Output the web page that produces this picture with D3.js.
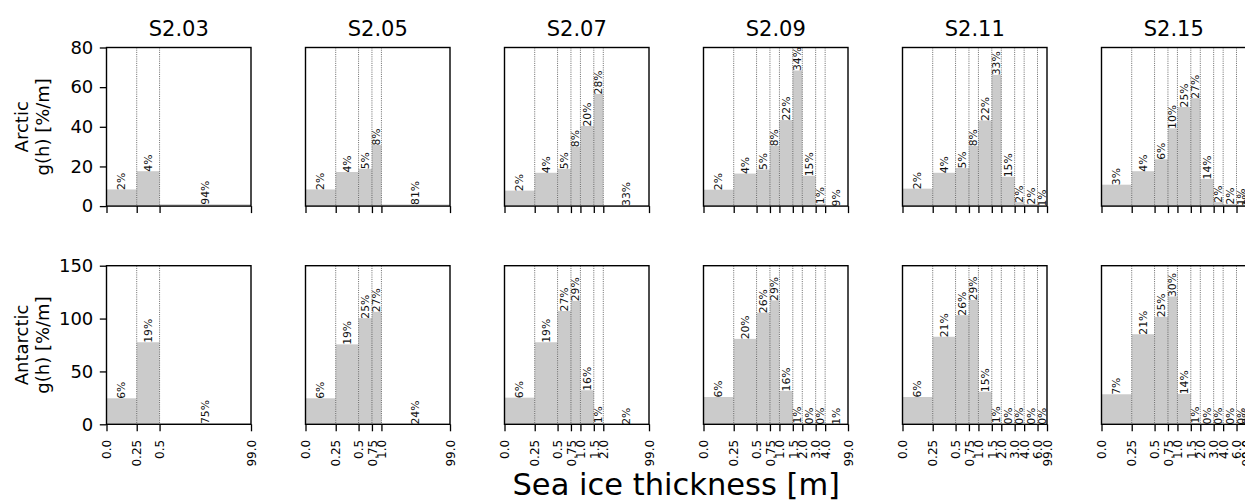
<!DOCTYPE html>
<html>
<head>
<meta charset="utf-8">
<script src="https://cdn.jsdelivr.net/npm/d3@7"></script>
<style>
  html, body { margin: 0; padding: 0; background: #ffffff; }
  svg { display: block; font-family: "DejaVu Sans", sans-serif; }
</style>
</head>
<body>
<svg id="chart" width="1245" height="502"></svg>
<script>
// ---------------- data ----------------
const experiments = ["S2.03", "S2.05", "S2.07", "S2.09", "S2.11", "S2.15"];
const regions = ["Arctic", "Antarctic"];

// thickness category boundaries [m] per experiment
const boundsS203 = [0, 0.25, 0.5, 99];
const boundsS205 = [0, 0.25, 0.5, 0.75, 1.0, 99];
const boundsS207 = [0, 0.25, 0.5, 0.75, 1.0, 1.5, 2.0, 99];
const boundsS209 = [0, 0.25, 0.5, 0.75, 1.0, 1.5, 2.0, 3.0, 4.0, 99];
const boundsS211 = [0, 0.25, 0.5, 0.75, 1.0, 1.5, 2.0, 3.0, 4.0, 6.0, 99];
const boundsS215 = [0, 0.25, 0.5, 0.75, 1.0, 1.5, 2.0, 3.0, 4.0, 6.0, 8.0, 99];

// share of ice area per category [%] (Arctic)
const arcticS203 = [2.1, 4.4, 93.5];
const arcticS205 = [2.1, 4.3, 4.7, 7.7, 81.2];
const arcticS207 = [1.95, 4.2, 4.7, 7.5, 20.2, 28.3, 33.2];
const arcticS209 = [2.07, 4.1, 4.6, 7.6, 21.7, 34.2, 15.3, 1.2, 9.3];
const arcticS211 = [2.2, 4.2, 4.8, 7.6, 21.6, 33.1, 14.8, 2.0, 2.0, 0.8];
const arcticS215 = [2.7, 4.4, 5.9, 9.8, 25.0, 27.2, 13.7, 2.0, 2.0, 1.0, 1.0];

// share of ice area per category [%] (Antarctic)
const antarcticS203 = [6.15, 19.4, 74.6];
const antarcticS205 = [6.15, 18.9, 25.1, 26.6, 24.0];
const antarcticS207 = [6.3, 19.4, 26.8, 29.2, 16.1, 0.7, 1.6];
const antarcticS209 = [6.45, 20.2, 26.4, 29.3, 15.8, 0.6, 0.2, 0.1, 0.9];
const antarcticS211 = [6.45, 20.7, 25.8, 29.4, 15.4, 0.7, 0.2, 0.1, 0.1, 0.1];
const antarcticS215 = [7.1, 21.3, 25.4, 30.2, 14.4, 0.6, 0.2, 0.1, 0.1, 0.1, 0.1];

const yTicksArctic = [0, 20, 40, 60, 80];
const yTicksAntarctic = [0, 50, 100, 150];
const yMax = [80, 150];

const bounds = [boundsS203, boundsS205, boundsS207, boundsS209, boundsS211, boundsS215];
const shares = [
  [arcticS203, arcticS205, arcticS207, arcticS209, arcticS211, arcticS215],
  [antarcticS203, antarcticS205, antarcticS207, antarcticS209, antarcticS211, antarcticS215]
];
const yTicks = [yTicksArctic, yTicksAntarctic];

// axis display: log axis; 0 is shown at 0.1, the open-ended top class at 8
const X_FLOOR = 0.1, X_CAP = 8;
const disp = v => Math.min(Math.max(v, X_FLOOR), X_CAP);

// ---------------- layout ----------------
const svg = d3.select("#chart");
const left0 = 106.5, colStep = 199, pw = 144.5;
const rowTop = [47.5, 265.7], ph = 158.6;
const fmtTick = v => (Math.abs(v * 10 - Math.round(v * 10)) < 1e-9) ? v.toFixed(1) : v.toFixed(2);

for (let r = 0; r < 2; r++) {
  for (let c = 0; c < experiments.length; c++) {
    const x0 = left0 + c * colStep, y0 = rowTop[r];
    const b = bounds[c];
    const p = shares[r][c];
    const x = d3.scaleLog().domain([X_FLOOR, X_CAP]).range([x0, x0 + pw]);
    const y = d3.scaleLinear().domain([0, yMax[r]]).range([y0 + ph, y0]);
    const g = svg.append("g");

    const bins = p.map((v, i) => ({
      lo: b[i], hi: b[i + 1], pct: v, dens: v / (b[i + 1] - b[i])
    }));

    // bars
    g.selectAll("rect.bar").data(bins).join("rect")
      .attr("class", "bar")
      .attr("x", d => x(disp(d.lo)))
      .attr("width", d => Math.max(0, x(disp(d.hi)) - x(disp(d.lo))))
      .attr("y", d => y(d.dens))
      .attr("height", d => y(0) - y(d.dens))
      .attr("fill", "#cbcbcb");

    // dotted class boundaries
    g.selectAll("line.bnd").data(b.slice(1, -1)).join("line")
      .attr("class", "bnd")
      .attr("x1", d => x(disp(d))).attr("x2", d => x(disp(d)))
      .attr("y1", y0).attr("y2", y0 + ph)
      .attr("stroke", "#444").attr("stroke-width", 0.8)
      .attr("stroke-dasharray", "1,1.2");

    // percentage labels
    g.selectAll("text.pct").data(bins).join("text")
      .attr("class", "pct")
      .attr("transform", d => {
        const cx = (x(disp(d.lo)) + x(disp(d.hi))) / 2;
        return `translate(${cx},${y(d.dens) + 0.5}) rotate(-90)`;
      })
      .attr("dy", "0.35em")
      .attr("font-size", 10.8)
      .attr("fill", "#111")
      .text(d => Math.round(d.pct) + "%");

    // x axis (ticks on every panel, labels on lower row)
    const xAxis = d3.axisBottom(x)
      .tickValues(b.map(disp))
      .tickSize(7)
      .tickFormat((d, i) => r === 1 ? fmtTick(b[i]) : "");
    const gx = g.append("g").attr("transform", `translate(0,${y0 + ph})`).call(xAxis);
    gx.select(".domain").remove();
    gx.selectAll(".tick line").attr("stroke", "#000").attr("stroke-width", 1.3);
    gx.selectAll(".tick text")
      .attr("font-size", 12).attr("font-family", "DejaVu Sans").attr("fill", "#000")
      .attr("transform", "rotate(-90)")
      .attr("x", -15.5).attr("y", 0).attr("dy", "0.35em")
      .style("text-anchor", "end");

    // y axis on first column only
    if (c === 0) {
      const gy = g.append("g").attr("transform", `translate(${x0},0)`)
        .call(d3.axisLeft(y).tickValues(yTicks[r]).tickSize(6.7).tickPadding(6.5));
      gy.select(".domain").remove();
      gy.selectAll(".tick line").attr("stroke", "#000").attr("stroke-width", 1.3);
      gy.selectAll(".tick text").attr("font-size", 18).attr("font-family", "DejaVu Sans").attr("fill", "#000");
    }

    // frame
    g.append("rect")
      .attr("x", x0).attr("y", y0).attr("width", pw).attr("height", ph)
      .attr("fill", "none").attr("stroke", "#000").attr("stroke-width", 1.4);

    // titles
    if (r === 0) {
      svg.append("text")
        .attr("x", x0 + pw / 2).attr("y", 36)
        .attr("text-anchor", "middle").attr("font-size", 21)
        .text(experiments[c]);
    }
  }
  // row label
  const cy = rowTop[r] + ph / 2;
  const lab = svg.append("text")
    .attr("transform", `translate(0,${cy}) rotate(-90)`)
    .attr("text-anchor", "middle").attr("font-size", 18);
  lab.append("tspan").attr("x", 0).attr("y", 28).text(regions[r]);
  lab.append("tspan").attr("x", 0).attr("y", 49).text("g(h) [%/m]");
}

svg.append("text")
  .attr("x", left0 + (experiments.length - 1) * colStep / 2 + pw / 2)
  .attr("y", 495)
  .attr("text-anchor", "middle").attr("font-size", 30.5)
  .text("Sea ice thickness [m]");
</script>
</body>
</html>
